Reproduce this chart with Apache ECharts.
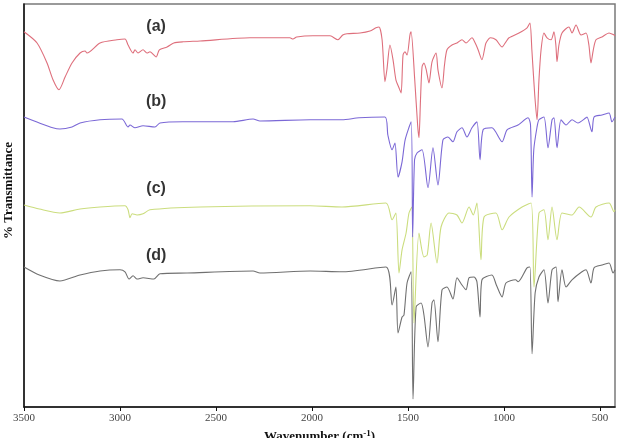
<!DOCTYPE html>
<html>
<head>
<meta charset="utf-8">
<script src="https://cdn.jsdelivr.net/npm/echarts@6/dist/echarts.min.js"></script>
<style>
  html, body { margin: 0; padding: 0; background: #fff; }
  #chart { width: 619px; height: 438px; }
</style>
</head>
<body>
<div id="chart"></div>
<script>
// tick labels on the wavenumber axis
var xTicks = [3500, 3000, 2500, 2000, 1500, 1000, 500];

// (a) red
var wnA = [3500,3432,3380,3349,3318,3286,3250,3208,3182,3172,3104,3016,2974,2958,2932,2922,2906,2880,2860,2844,2812,2795,2755,2720,2672,2583,2323,2115,2099,2080,1995,1906,1865,1840,1818,1750,1698,1667,1651,1635,1620,1610,1594,1578,1563,1547,1536,1526,1516,1505,1490,1484,1465,1450,1443,1435,1427,1417,1405,1391,1375,1354,1344,1323,1310,1297,1271,1245,1219,1198,1167,1150,1135,1115,1100,1094,1070,1042,1010,990,974,922,880,865,855,840,828,818,807,792,776,755,740,730,724,714,698,662,646,625,599,573,558,547,535,521,490,453,427,422];
var tA = [93.8,91,86,81.8,79.3,82.5,86,88.5,89,88.5,91,91.8,92,90.5,88.5,89.3,88.5,89.3,88.5,88.8,87.5,89.3,90,91,91.3,91.5,92.3,92.3,92,92.5,92.8,92.8,91.8,93,93.3,93.5,94,94.8,95,91.8,81.3,84.3,90.5,86.8,81.8,79.8,78.5,88,88.8,88,93,93.8,81.8,70.5,67.3,76.8,85,86,84.3,81,86.3,88.5,84.3,79.8,85.5,89.3,90.5,91,91.8,91,92.3,91,89.3,86.8,89.8,91,92.3,91.8,90,91.3,92.3,93.5,94.8,96,89.3,78,71.8,81.8,89.3,93.5,92.3,91.8,93.8,90.5,86.3,90.5,93.5,95,93.5,95.5,93,93.5,90.5,86,89.3,91.8,92.5,93.5,93,92.8];

// (b) blue
var wnB = [3500,3420,3350,3313,3250,3208,3104,2990,2958,2948,2922,2880,2818,2792,2672,2411,2307,2271,2010,1844,1755,1620,1605,1583,1568,1552,1531,1515,1484,1476,1466,1453,1427,1396,1370,1344,1318,1292,1266,1245,1219,1193,1167,1141,1125,1109,1063,1010,984,927,875,862,854,845,828,818,792,771,750,740,724,703,677,646,615,573,568,542,531,490,453,438,422];
var tB = [72.5,71,69.8,69.5,70,71,71.8,72,70,70.5,69.8,70.3,70,71,71.3,71.3,72,71.5,71.8,71.8,72.3,72.5,68,64.3,66,57.5,61.3,66.8,71.3,42.5,61.8,63.5,64.3,54.8,64.8,55.5,66.8,67.5,66.3,68.8,69.8,67.5,69.8,71.3,61.8,69.3,69.8,66.3,69.3,70.5,72.3,70.5,52.5,64.3,70,71.8,72.5,64.8,71.8,72.3,64.8,71.8,70.5,71.8,71,72.3,72.5,68.8,72.5,73,73.5,71.3,72.5];

// (c) green
var wnC = [3500,3420,3313,3208,3104,2974,2958,2948,2937,2911,2880,2844,2583,2010,1844,1615,1583,1563,1547,1531,1510,1495,1480,1469,1443,1417,1400,1380,1349,1328,1286,1245,1219,1182,1160,1141,1120,1104,1042,1010,974,906,859,844,818,792,771,750,724,698,646,609,547,521,453,427,422];
var tC = [50.5,49.5,48.5,49.5,50,50.3,49.3,47.3,48.3,48,48.3,49.3,50,50.3,50,51,46.8,48.5,33.5,39.3,43.5,48.5,50,21,43.5,37.5,38,46,36,45,48.5,48,46,50,48,51,36.8,47.5,48.5,44.3,47.5,50,51,30,48.5,49.3,41.8,50,41.8,48.5,48,50,47.5,50,51,48.8,49.3];

// (d) grey
var wnD = [3500,3420,3313,3208,3104,3000,2974,2953,2932,2911,2880,2823,2792,2651,2307,2271,2010,1844,1615,1583,1563,1552,1531,1521,1505,1484,1474,1458,1432,1417,1396,1375,1365,1344,1323,1297,1266,1245,1219,1198,1182,1156,1141,1125,1115,1063,1040,1010,990,940,927,880,865,854,838,818,792,771,750,729,719,698,677,646,594,573,547,531,490,453,432,422];
var tD = [35,33,31.5,33,34,34.3,33.8,32,32.8,32,32.3,32,33.3,33.5,34,33.5,34,33.8,35,25.5,30,18.5,22.5,23,31,33.8,2,25,26,23,15,26,26.8,16.3,29.3,30,27,32.3,30.5,29.3,32.3,32.5,31.3,22.5,31.8,33,30.5,27.5,31,31.8,31.3,34.8,35,13.3,28.5,32.5,34.3,26,34.3,35,26.3,34.3,30,31.8,33.8,34.3,31,34.8,35.5,36,33.5,34.3];

// trace labels
var labelText = ['(a)', '(b)', '(c)', '(d)'];
var labelWn = [2812, 2812, 2812, 2812];
var labelT = [95, 76.3, 54.5, 37.8];

function zip(xs, ys) {
  return xs.map(function (x, i) { return [x, ys[i]]; });
}

function trace(name, xs, ys, color) {
  return {
    name: name,
    type: 'line',
    showSymbol: false,
    smooth: 0.25,
    data: zip(xs, ys),
    lineStyle: { color: color, width: 1.1 },
    itemStyle: { color: color }
  };
}

var myChart = echarts.init(document.getElementById('chart'));
var option = {
  animation: false,
  grid: {
    left: 24, right: 4, top: 4, bottom: 31,
    show: true,
    borderColor: '#7a7a7a',
    borderWidth: 1.5,
    outerBoundsMode: 'none'
  },
  xAxis: {
    type: 'value',
    inverse: true,
    min: 422,
    max: 3500,
    name: 'Wavenumber (cm{sup|-1})',
    nameLocation: 'middle',
    nameGap: 21,
    nameTextStyle: {
      fontFamily: 'Liberation Serif',
      fontWeight: 'bold',
      fontSize: 13,
      color: '#111',
      rich: {
        sup: { fontFamily: 'Liberation Serif', fontWeight: 'bold', fontSize: 9, color: '#111', verticalAlign: 'top', padding: [0, 0, 6, 0] }
      }
    },
    axisLine: { lineStyle: { color: '#111', width: 1.5 } },
    axisTick: { customValues: xTicks, length: 4, lineStyle: { color: '#111' } },
    axisLabel: {
      customValues: xTicks,
      margin: 6,
      fontFamily: 'Liberation Serif',
      fontSize: 11,
      color: '#444',
      formatter: function (v) { return String(v); }
    },
    splitLine: { show: false }
  },
  yAxis: {
    type: 'value',
    min: 0,
    max: 100.75,
    name: '% Transmittance',
    nameLocation: 'middle',
    nameGap: 9,
    nameTextStyle: {
      fontFamily: 'Liberation Serif',
      fontWeight: 'bold',
      fontSize: 13,
      color: '#111',
      padding: [0, 0, 0, 30]
    },
    axisLine: { show: true, lineStyle: { color: '#111', width: 1.5 } },
    axisTick: { show: false },
    axisLabel: { show: false },
    splitLine: { show: false }
  },
  series: [
    trace('d', wnD, tD, '#707070'),
    trace('c', wnC, tC, '#cbdd7e'),
    trace('b', wnB, tB, '#7b68d6'),
    trace('a', wnA, tA, '#de6f7c'),
    {
      type: 'scatter',
      symbolSize: 0,
      data: labelText.map(function (t, i) {
        return { name: t, value: [labelWn[i], labelT[i]] };
      }),
      label: {
        show: true,
        position: 'inside',
        formatter: '{b}',
        fontFamily: 'Liberation Sans',
        fontWeight: 'bold',
        fontSize: 16,
        color: '#000'
      }
    }
  ]
};
myChart.setOption(option);
</script>
</body>
</html>
